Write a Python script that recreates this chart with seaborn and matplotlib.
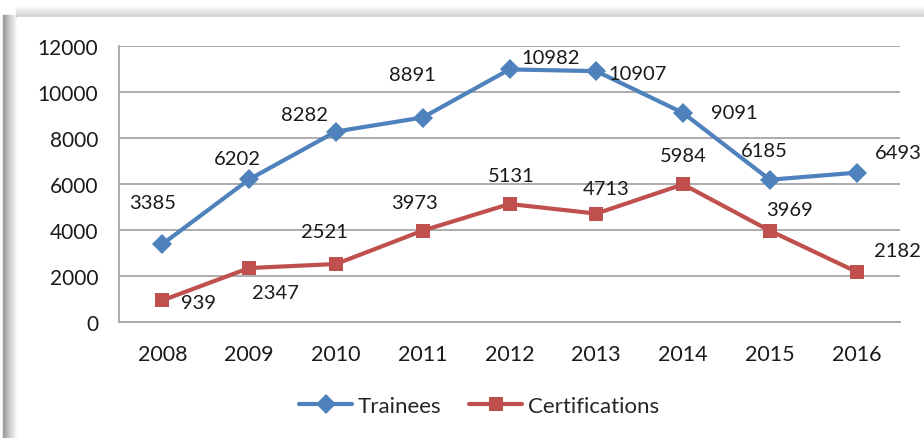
import numpy as np
import pandas as pd
import matplotlib.pyplot as plt
import seaborn as sns
from matplotlib.patches import Rectangle
from matplotlib.lines import Line2D

# Dữ liệu
years = [2008, 2009, 2010, 2011, 2012, 2013, 2014, 2015, 2016]
trainees = [3385, 6202, 8282, 8891, 10982, 10907, 9091, 6185, 6493]
certifications = [939, 2347, 2521, 3973, 5131, 4713, 5984, 3969, 2182]
series_names = ["Trainees", "Certifications"]

# vị trí nhãn (pixel, so với điểm)
trainee_offsets = [(-10, 42), (-12, 21), (-31, 17), (-10, 43), (41, 12),
                   (41, -2), (51, 0), (-6, 29), (42, 20)]
cert_offsets = [(36, -2), (26, -24), (-12, 33), (-8, 28), (2, 28),
                (10, 25), (0, 29), (20, 21), (41, 21)]

blue = "#4F81BD"
red = "#C0504D"

sns.set_style("white")
plt.rcParams['font.family'] = ['Lato', 'DejaVu Sans']

df = pd.DataFrame({
    "Year": years * 2,
    "Value": trainees + certifications,
    "Series": [series_names[0]] * len(years) + [series_names[1]] * len(years),
})

fig = plt.figure(figsize=(9.24, 4.39), dpi=100)
W, H = 924, 439

# khung biểu đồ với bóng đổ
box_x, box_y = 17, 18
for i in range(14):
    g = 0.62 + 0.38 * (1 - i / 13) ** 0.8
    fig.patches.append(Rectangle(((box_x - 1 - i) / W, 0), 1 / W, (H - box_y + 2) / H,
                                 transform=fig.transFigure, color=str(g), zorder=-5))
for i in range(13):
    g = 0.78 + 0.22 * (i / 12) ** 0.8
    fig.patches.append(Rectangle(((box_x - 1) / W, (H - box_y + i) / H),
                                 1, 1 / H, transform=fig.transFigure,
                                 color=str(min(g, 1.0)), zorder=-5))
fig.patches.append(Rectangle((box_x / W, 0), 1, (H - box_y) / H,
                             transform=fig.transFigure, color="white", zorder=-4))

ax = fig.add_axes([119 / W, (H - 323) / H, (900 - 119) / W, (323 - 47) / H])
ax.set_facecolor("none")
ax.set_zorder(2)

sns.lineplot(data=df, x="Year", y="Value", hue="Series", style="Series",
             palette=[blue, red], markers=["D", "s"], dashes=False,
             markersize=10, linewidth=3, markeredgewidth=0, ax=ax, legend=False,
             zorder=3)

for vals, offs in [(trainees, trainee_offsets), (certifications, cert_offsets)]:
    for x, y, (dx, dy) in zip(years, vals, offs):
        ax.annotate(str(y), (x, y), xytext=(dx, dy), textcoords="offset pixels",
                    ha="center", va="center", fontsize=14.5, color="#1a1a1a")

ax.set_xlim(years[0] - 0.5, years[-1] + 0.5)
ax.set_ylim(0, 12000)
ax.set_yticks(np.arange(0, 12001, 2000))
ax.set_xticks(years)
ax.set_xticks(np.arange(years[0] - 0.5, years[-1] + 0.6, 1), minor=True)
ax.tick_params(axis="x", which="major", length=0, pad=16, labelsize=15.5, labelcolor="#1a1a1a")
ax.tick_params(axis="x", which="minor", length=7, width=1.3, color="#a6a6a6", direction="out")
ax.tick_params(axis="y", length=7, width=1.3, color="#a6a6a6", direction="out",
               pad=8, labelsize=15, labelcolor="#1a1a1a")
ax.yaxis.grid(True, color="#a6a6a6", linewidth=1.3)
ax.set_axisbelow(True)
for s in ["top", "right"]:
    ax.spines[s].set_visible(False)
for s in ["left", "bottom"]:
    ax.spines[s].set_color("#a6a6a6")
    ax.spines[s].set_linewidth(1.3)
ax.set_xlabel("")
ax.set_ylabel("")

handles = [Line2D([], [], color=blue, marker="D", markersize=10, linewidth=3, markeredgewidth=0),
           Line2D([], [], color=red, marker="s", markersize=10, linewidth=3, markeredgewidth=0)]
fig.legend(handles, series_names, loc="center", bbox_to_anchor=(479 / W, (H - 407) / H),
           ncol=2, frameon=False, fontsize=16, handlelength=2.4, handletextpad=0.25,
           columnspacing=1.25)

fig.savefig("out.png", dpi=100)
